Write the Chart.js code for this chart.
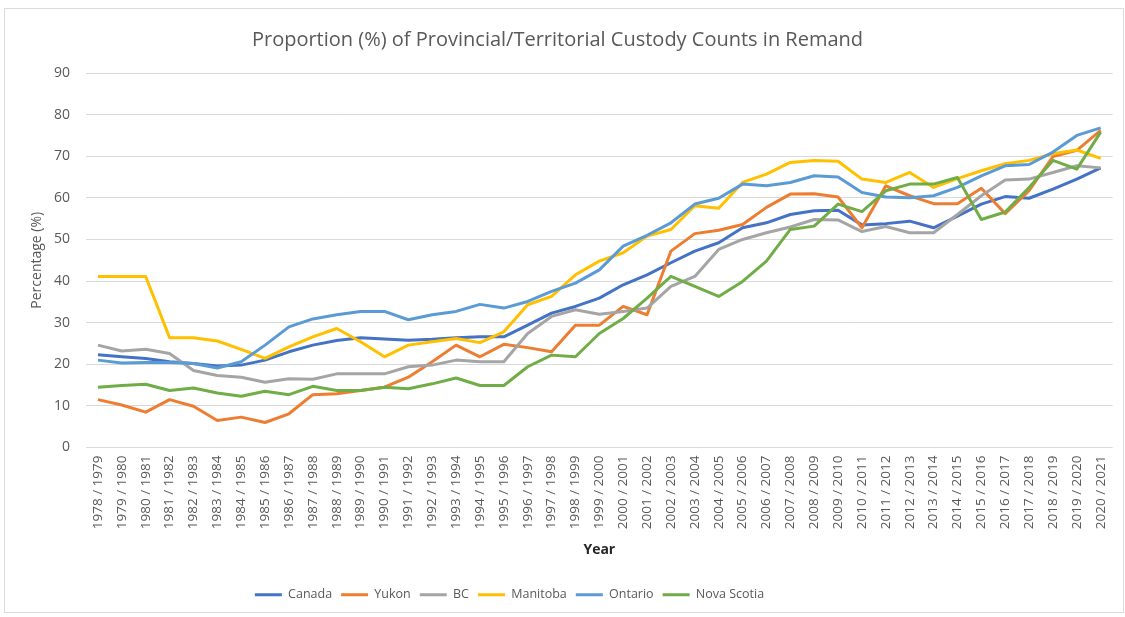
<!DOCTYPE html>
<html>
<head>
<meta charset="utf-8">
<script src="https://cdn.jsdelivr.net/npm/chart.js@4"></script>
<style>
  html, body { margin: 0; padding: 0; background: #fff; }
  #wrap { position: relative; width: 1125px; height: 617px; }
  #frame { position: absolute; left: 4px; top: 8px; width: 1120px; height: 605px; box-sizing: border-box; border: 1px solid #dcdcdc; }
  #chart { position: absolute; left: 0; top: 0; }
</style>
</head>
<body>
<div id="wrap">
  <div id="frame"></div>
  <canvas id="chart" width="1125" height="617"></canvas>
</div>
<script>
// Remand share of custody counts, 1978/1979 - 2020/2021

const years = [
  '1978 / 1979', '1979 / 1980', '1980 / 1981', '1981 / 1982', '1982 / 1983', '1983 / 1984',
  '1984 / 1985', '1985 / 1986', '1986 / 1987', '1987 / 1988', '1988 / 1989', '1989 / 1990',
  '1990 / 1991', '1991 / 1992', '1992 / 1993', '1993 / 1994', '1994 / 1995', '1995 / 1996',
  '1996 / 1997', '1997 / 1998', '1998 / 1999', '1999 / 2000', '2000 / 2001', '2001 / 2002',
  '2002 / 2003', '2003 / 2004', '2004 / 2005', '2005 / 2006', '2006 / 2007', '2007 / 2008',
  '2008 / 2009', '2009 / 2010', '2010 / 2011', '2011 / 2012', '2012 / 2013', '2013 / 2014',
  '2014 / 2015', '2015 / 2016', '2016 / 2017', '2017 / 2018', '2018 / 2019', '2019 / 2020',
  '2020 / 2021'
];

const canada = [
  22.3, 21.8, 21.4, 20.6, 20.2, 19.6, 19.8, 21.0, 23.0, 24.6, 25.7, 26.4, 26.1, 25.8, 26.0,
  26.4, 26.6, 26.6, 29.4, 32.3, 33.9, 35.9, 39.1, 41.5, 44.4, 47.2, 49.2, 52.8, 54.0, 56.0,
  56.9, 57.0, 53.5, 53.8, 54.4, 52.8, 55.6, 58.5, 60.3, 59.9, 62.1, 64.5, 67.2
];
const yukon = [
  11.5, 10.2, 8.5, 11.5, 9.9, 6.5, 7.3, 6.0, 8.1, 12.7, 12.9, 13.7, 14.5, 16.9, 20.6,
  24.6, 21.8, 24.8, 24.0, 23.0, 29.4, 29.4, 33.9, 31.9, 47.2, 51.4, 52.2, 53.6, 57.7, 60.9,
  61.0, 60.2, 52.8, 62.9, 60.5, 58.6, 58.6, 62.3, 56.2, 61.7, 69.9, 71.4, 76.2
];
const bc = [
  24.6, 23.2, 23.6, 22.6, 18.5, 17.3, 16.9, 15.7, 16.5, 16.4, 17.7, 17.7, 17.7, 19.4, 19.8,
  21.0, 20.6, 20.6, 27.4, 31.5, 33.1, 32.0, 32.7, 33.5, 38.7, 41.1, 47.6, 50.0, 51.6, 53.0,
  54.8, 54.7, 51.9, 53.1, 51.6, 51.6, 56.0, 60.5, 64.3, 64.5, 66.1, 67.7, 67.2
];
const manitoba = [
  41.1, 41.1, 41.1, 26.4, 26.4, 25.6, 23.6, 21.4, 24.2, 26.6, 28.6, 25.4, 21.8, 24.6, 25.4,
  26.2, 25.2, 27.8, 34.3, 36.3, 41.5, 44.8, 46.8, 50.8, 52.4, 58.1, 57.5, 63.7, 65.7, 68.5,
  69.0, 68.8, 64.5, 63.7, 66.1, 62.5, 64.6, 66.5, 68.2, 69.0, 70.6, 71.5, 69.5
];
const ontario = [
  21.0, 20.3, 20.4, 20.4, 20.2, 19.1, 20.6, 24.6, 29.0, 30.9, 31.9, 32.7, 32.7, 30.7, 31.9,
  32.7, 34.4, 33.5, 35.1, 37.5, 39.5, 42.7, 48.4, 51.0, 54.0, 58.5, 59.9, 63.3, 62.9, 63.7,
  65.3, 65.0, 61.3, 60.2, 60.0, 60.5, 62.5, 65.3, 67.7, 68.0, 71.0, 75.0, 76.8
];
const novaScotia = [
  14.5, 14.9, 15.2, 13.7, 14.3, 13.1, 12.3, 13.5, 12.7, 14.7, 13.7, 13.7, 14.5, 14.1, 15.3,
  16.7, 14.9, 14.9, 19.4, 22.2, 21.8, 27.4, 31.0, 35.9, 41.1, 38.7, 36.3, 39.9, 44.8, 52.4,
  53.2, 58.5, 56.7, 61.7, 63.3, 63.3, 64.9, 54.8, 56.6, 62.5, 69.0, 66.9, 75.8
];

const seriesNames = ['Canada', 'Yukon', 'BC', 'Manitoba', 'Ontario', 'Nova Scotia'];
const seriesValues = [canada, yukon, bc, manitoba, ontario, novaScotia];
const seriesColors = ['#4472C4', '#ED7D31', '#A5A5A5', '#FFC000', '#5B9BD5', '#70AD47'];

const textColor = '#595959';
const fontFamily = '"Open Sans", "Liberation Sans", sans-serif';

// later series sit on top, like the spreadsheet original
const datasets = seriesNames.map((name, i) => ({
  label: name,
  data: seriesValues[i],
  borderColor: seriesColors[i],
  backgroundColor: seriesColors[i],
  borderWidth: 3,
  pointRadius: 0,
  tension: 0,
  borderJoinStyle: 'round',
  order: seriesNames.length - i
}));

// nudge the legend left so it sits where the original one does
const legendShift = {
  id: 'legendShift',
  afterLayout(chart) {
    if (chart.legend) {
      chart.legend.left -= 48;
      chart.legend.right -= 48;
    }
  }
};

new Chart(document.getElementById('chart'), {
  type: 'line',
  data: { labels: years, datasets },
  plugins: [legendShift],
  options: {
    responsive: false,
    animation: false,
    layout: { padding: { left: 0, right: 10, top: 0, bottom: 6 } },
    plugins: {
      title: {
        display: true,
        text: 'Proportion (%) of Provincial/Territorial Custody Counts in Remand',
        color: textColor,
        font: { family: fontFamily, size: 20, weight: 'normal', lineHeight: 1.2 },
        padding: { top: 28, bottom: 21 }
      },
      legend: {
        position: 'bottom',
        labels: {
          color: textColor,
          font: { family: fontFamily, size: 12.5 },
          usePointStyle: true,
          pointStyle: 'line',
          pointStyleWidth: 27,
          padding: 9,
          sort: (a, b) => a.datasetIndex - b.datasetIndex
        }
      },
      tooltip: { enabled: false }
    },
    scales: {
      x: {
        offset: true,
        grid: { display: false, drawTicks: false },
        border: { display: false },
        ticks: {
          autoSkip: false,
          minRotation: 90,
          maxRotation: 90,
          padding: 8,
          color: textColor,
          font: { family: fontFamily, size: 13.5 }
        },
        title: {
          display: true,
          text: 'Year',
          color: '#262626',
          font: { family: fontFamily, size: 14, weight: 'bold', lineHeight: 1.2 },
          padding: { top: 0, bottom: 21 }
        },
        afterFit(scale) { scale.height = 132; }
      },
      y: {
        min: 0,
        max: 90,
        grid: { color: '#D9D9D9', lineWidth: 1, drawTicks: false },
        border: { display: false },
        ticks: {
          stepSize: 10,
          padding: 16,
          color: textColor,
          font: { family: fontFamily, size: 14 }
        },
        title: {
          display: true,
          text: 'Percentage (%)',
          color: textColor,
          font: { family: fontFamily, size: 14, weight: 'normal', lineHeight: 1.2 },
          padding: { top: 29, bottom: 0 }
        },
        afterFit(scale) { scale.width = 86; }
      }
    }
  }
});
</script>
</body>
</html>
